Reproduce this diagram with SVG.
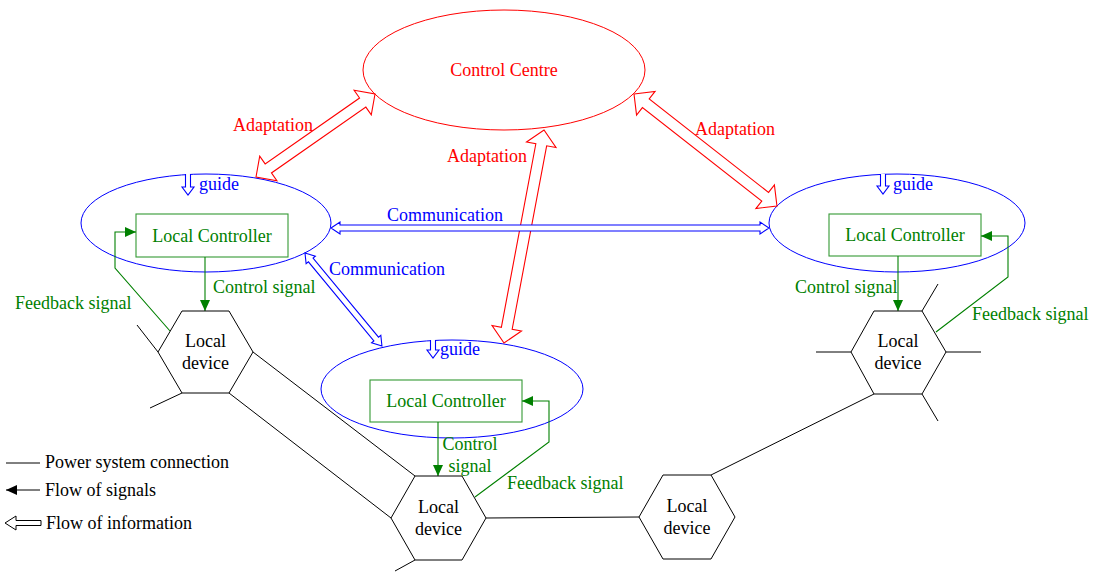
<svg xmlns="http://www.w3.org/2000/svg" width="1095" height="572" viewBox="0 0 1095 572">
<style>
text{font-family:"Liberation Serif","Times New Roman",serif;font-size:18px}
.r{fill:#ff0000}.b{fill:#0000ff}.g{fill:#008000}.k{fill:#000}
.pw{stroke:#000;stroke-width:1;fill:none}
.hex{stroke:#000;stroke-width:1;fill:#fff}
.sig{stroke:#008000;stroke-width:1.1;fill:none}
.ha{stroke:#ff0000;stroke-width:1.1;fill:#fff}
.hb{stroke:#0000ff;stroke-width:1.1;fill:#fff}
.box{stroke:#008000;stroke-width:1.1;fill:#fff;stroke-opacity:0.8}
</style>
<defs>
<marker id="ag" markerUnits="userSpaceOnUse" markerWidth="12" markerHeight="10" refX="11" refY="5" orient="auto"><path d="M0,0 L11,5 L0,10 Z" fill="#008000"/></marker>
<marker id="ak" markerUnits="userSpaceOnUse" markerWidth="12" markerHeight="10" refX="11" refY="5" orient="auto"><path d="M0,0 L11,5 L0,10 Z" fill="#000"/></marker>
</defs>

<g id="control-centre">
<ellipse cx="504" cy="70" rx="141" ry="60" fill="none" stroke="#ff0000" stroke-width="1"/>
<text class="r" x="504" y="76" text-anchor="middle">Control Centre</text>
</g>

<g id="area-left">
<ellipse cx="206" cy="223" rx="125" ry="49" fill="none" stroke="#0000ff" stroke-width="1"/>
<path class="hb" d="M185.5,174 V187 H182 L188,195 L194,187 H190.5 V174"/>
<text class="b" x="199" y="190">guide</text>
</g>
<g id="controller-left">
<rect class="box" x="136" y="214" width="152" height="43"/>
<text class="g" x="212" y="242" text-anchor="middle">Local Controller</text>
</g>

<g id="area-right">
<ellipse cx="897" cy="223" rx="128" ry="49" fill="none" stroke="#0000ff" stroke-width="1"/>
<path class="hb" d="M880.5,174 V186 H877 L883,194 L889,186 H885.5 V174"/>
<text class="b" x="893" y="190">guide</text>
</g>
<g id="controller-right">
<rect class="box" x="829" y="214" width="152" height="42"/>
<text class="g" x="905" y="241" text-anchor="middle">Local Controller</text>
</g>

<g id="area-bottom">
<ellipse cx="452" cy="389" rx="131" ry="49" fill="none" stroke="#0000ff" stroke-width="1"/>
<path class="hb" d="M430.5,340 V350 H427 L433,358 L439,350 H435.5 V340"/>
<text class="b" x="440" y="355">guide</text>
</g>
<g id="controller-bottom">
<rect class="box" x="370" y="380" width="152" height="42"/>
<text class="g" x="446" y="407" text-anchor="middle">Local Controller</text>
</g>

<g id="connectors">
<!-- power system connections -->
<path class="pw" d="M158,352 L137,325 M182,393 L150,408 M253,352 L415,476 M229,393 L391,518 M415,560 L395,571 M486,518 L639,517 M711,475 L874,394 M851,352 L816,352 M946,352 L981,352 M922,311 L938,284 M922,394 L938,421"/>
<!-- signals -->
<path class="sig" d="M205,257 V311" marker-end="url(#ag)"/>
<path class="sig" d="M170,331 L115,268 V232 H136" marker-end="url(#ag)"/>
<path class="sig" d="M898,256 V311" marker-end="url(#ag)"/>
<path class="sig" d="M936,332 L1008,277 V236 H981" marker-end="url(#ag)"/>
<path class="sig" d="M438,422 V476" marker-end="url(#ag)"/>
<path class="sig" d="M475,497 L549,442 V401 H522" marker-end="url(#ag)"/>
<!-- adaptation (information) -->
<polygon class="ha" transform="translate(256,177) rotate(-34.9)" points="0,0 15,-15 15,-5.5 130.1,-5.5 130.1,-15 145.1,0 130.1,15 130.1,5.5 15,5.5 15,15"/>
<polygon class="ha" transform="translate(504,343) rotate(-79.36)" points="0,0 15,-15 15,-5.5 201.7,-5.5 201.7,-15 216.7,0 201.7,15 201.7,5.5 15,5.5 15,15"/>
<polygon class="ha" transform="translate(634,94) rotate(38.07)" points="0,0 15,-15 15,-5.5 166.6,-5.5 166.6,-15 181.6,0 166.6,15 166.6,5.5 15,5.5 15,15"/>
<!-- communication -->
<polygon class="hb" transform="translate(331,228)" points="0,0 9,-6 9,-3 429,-3 429,-6 438,0 429,6 429,3 9,3 9,6"/>
<polygon class="hb" transform="translate(305,253) rotate(50.4)" points="0,0 9,-6 9,-3 111.7,-3 111.7,-6 120.7,0 111.7,6 111.7,3 9,3 9,6"/>
</g>

<g id="connector-labels">
<text class="r" x="233" y="131">Adaptation</text>
<text class="r" x="447" y="162">Adaptation</text>
<text class="r" x="695" y="135">Adaptation</text>
<text class="b" x="387" y="221">Communication</text>
<text class="b" x="329" y="275">Communication</text>
<text class="g" x="213" y="293">Control signal</text>
<text class="g" x="15" y="309">Feedback signal</text>
<text class="g" x="795" y="293">Control signal</text>
<text class="g" x="972" y="320">Feedback signal</text>
<text class="g" x="470" y="450" text-anchor="middle">Control</text>
<text class="g" x="470" y="472" text-anchor="middle">signal</text>
<text class="g" x="507" y="489">Feedback signal</text>
</g>

<g id="device-left">
<polygon class="hex" points="182,311 229,311 253,352 229,393 182,393 158,352"/>
<text class="k" x="205.5" y="347" text-anchor="middle">Local</text>
<text class="k" x="205.5" y="369" text-anchor="middle">device</text>
</g>
<g id="device-right">
<polygon class="hex" points="874,311 922,311 946,352 922,394 874,394 851,352"/>
<text class="k" x="898" y="347" text-anchor="middle">Local</text>
<text class="k" x="898" y="369" text-anchor="middle">device</text>
</g>
<g id="device-bottom-centre">
<polygon class="hex" points="415,476 462,476 486,518 462,560 415,560 391,518"/>
<text class="k" x="438.5" y="513" text-anchor="middle">Local</text>
<text class="k" x="438.5" y="535" text-anchor="middle">device</text>
</g>
<g id="device-bottom-right">
<polygon class="hex" points="663,475 711,475 735,517 711,559 663,559 639,517"/>
<text class="k" x="687" y="512" text-anchor="middle">Local</text>
<text class="k" x="687" y="534" text-anchor="middle">device</text>
</g>

<g id="legend">
<line class="pw" x1="6" y1="463" x2="40" y2="463"/>
<text class="k" x="45" y="468">Power system connection</text>
<line x1="40" y1="490" x2="6" y2="490" stroke="#000" stroke-width="1" marker-end="url(#ak)"/>
<text class="k" x="45" y="496">Flow of signals</text>
<polygon transform="translate(5,523)" points="0,0 11,-7 11,-2.5 36,-2.5 36,2.5 11,2.5 11,7" fill="#fff" stroke="#000" stroke-width="1"/>
<text class="k" x="46" y="529">Flow of information</text>
</g>
</svg>
